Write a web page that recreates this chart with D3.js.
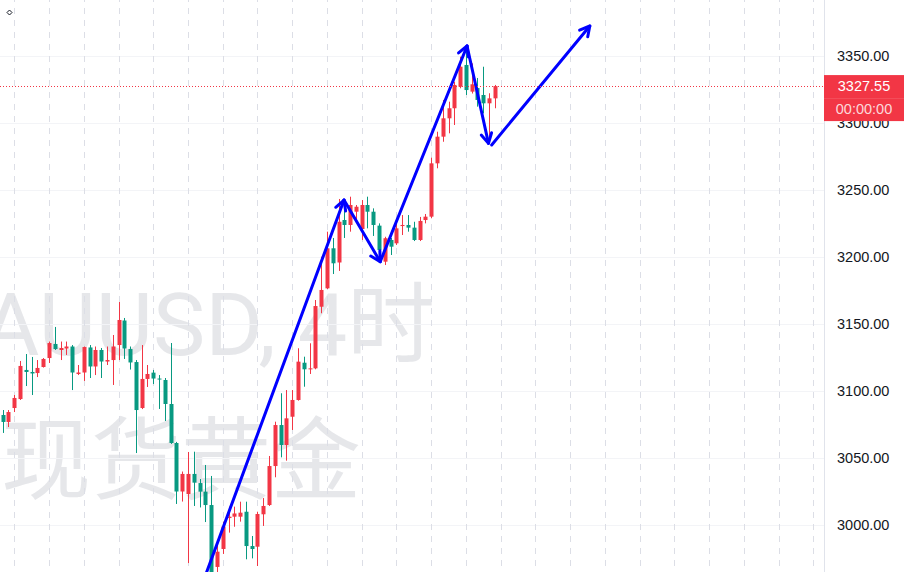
<!DOCTYPE html>
<html>
<head>
<meta charset="utf-8">
<script src="https://cdn.jsdelivr.net/npm/d3@7"></script>
<style>
  html, body { margin: 0; padding: 0; background: #fff; }
  svg { display: block; }
</style>
</head>
<body>
<svg width="904" height="572"></svg>
<script>
// XAUUSD 4h candles, oldest first
const opens = [3082.1, 3076.9, 3087.3, 3094.0, 3115.7, 3114.2, 3113.4, 3117.9, 3124.6, 3135.1,
  3130.6, 3131.7, 3133.2, 3112.7, 3113.8, 3132.5, 3118.3, 3130.6, 3122.0, 3123.1,
  3134.3, 3152.6, 3131.3, 3121.6, 3087.3, 3109.0, 3113.7, 3109.3, 3108.2, 3090.3,
  3061.2, 3025.0, 3023.1, 3038.1, 3031.3, 3024.9, 3014.9, 2968.7, 2982.1, 3005.2,
  3006.2, 3006.2, 3009.9, 2984.3, 2983.8, 3008.0, 3014.9, 3044.0, 3074.6, 3059.7,
  3080.8, 3093.3, 3121.1, 3116.2, 3116.9, 3162.9, 3176.6, 3206.5, 3195.9, 3227.6,
  3223.9, 3233.8, 3220.9, 3238.8, 3233.8, 3223.4, 3196.5, 3212.7, 3210.2, 3223.1,
  3223.9, 3221.9, 3212.7, 3227.6, 3230.1, 3269.9, 3289.8, 3303.5, 3311.0, 3327.1,
  3343.3, 3323.4, 3326.1, 3320.9, 3314.7, 3318.4];
const highs = [3085.8, 3085.8, 3097.0, 3122.4, 3127.6, 3125.4, 3123.1, 3124.6, 3136.9, 3147.8,
  3136.9, 3136.9, 3134.3, 3119.4, 3133.2, 3134.3, 3133.2, 3132.1, 3133.2, 3141.8,
  3166.4, 3154.5, 3133.2, 3123.1, 3134.3, 3119.4, 3115.7, 3111.9, 3109.7, 3135.8,
  3062.0, 3039.9, 3054.5, 3054.7, 3034.3, 3044.8, 3036.6, 2985.1, 3002.5, 3013.7,
  3013.7, 3017.4, 3017.4, 2991.8, 3009.9, 3020.1, 3051.5, 3077.1, 3098.3, 3100.7,
  3100.7, 3131.9, 3125.6, 3135.6, 3167.9, 3200.2, 3218.9, 3214.2, 3243.3, 3241.8,
  3245.0, 3238.8, 3242.5, 3245.0, 3236.3, 3225.1, 3215.1, 3214.2, 3226.1, 3231.3,
  3231.3, 3226.3, 3229.9, 3232.1, 3274.1, 3293.5, 3317.2, 3315.9, 3330.8, 3349.5,
  3354.5, 3344.5, 3333.6, 3342.0, 3322.2, 3328.4];
const lows = [3068.7, 3073.1, 3084.3, 3093.3, 3103.7, 3097.0, 3110.4, 3117.5, 3120.9, 3130.6,
  3123.1, 3126.9, 3100.7, 3111.9, 3107.5, 3109.7, 3111.9, 3109.7, 3119.4, 3104.5,
  3123.1, 3123.9, 3116.0, 3053.7, 3086.5, 3103.0, 3105.2, 3086.6, 3077.6, 3060.5,
  3015.7, 3017.5, 2971.6, 3014.2, 3013.1, 3002.2, 2951.5, 2955.2, 2978.4, 2994.3,
  2998.7, 3002.5, 2974.4, 2975.1, 2969.4, 2999.3, 3014.2, 3035.6, 3050.5, 3048.0,
  3070.9, 3092.8, 3103.2, 3112.7, 3116.2, 3158.0, 3176.1, 3187.3, 3189.6, 3214.2,
  3218.9, 3226.3, 3212.7, 3221.4, 3215.7, 3195.5, 3194.0, 3201.5, 3209.0, 3216.4,
  3218.9, 3211.9, 3211.9, 3225.1, 3228.9, 3266.2, 3286.0, 3292.3, 3298.5, 3325.9,
  3320.9, 3322.0, 3312.2, 3307.2, 3284.9, 3311.0];
const closes = [3076.9, 3084.3, 3094.8, 3118.7, 3114.2, 3113.1, 3117.2, 3123.9, 3135.8, 3131.3,
  3132.1, 3133.2, 3113.8, 3113.8, 3132.8, 3118.3, 3130.6, 3122.0, 3123.1, 3133.2,
  3153.0, 3131.7, 3121.3, 3085.8, 3109.0, 3112.7, 3109.3, 3108.6, 3090.3, 3061.2,
  3025.0, 3038.1, 3038.1, 3031.6, 3024.9, 3014.9, 2961.9, 2980.1, 2998.9, 3006.2,
  3008.6, 3009.2, 2984.3, 2982.1, 3008.2, 3014.2, 3044.0, 3074.6, 3059.7, 3079.6,
  3093.3, 3121.9, 3116.2, 3116.9, 3163.4, 3175.4, 3206.5, 3195.3, 3226.3, 3223.9,
  3238.8, 3237.5, 3238.8, 3233.8, 3223.9, 3205.2, 3214.0, 3207.7, 3221.4, 3223.9,
  3221.9, 3212.7, 3226.9, 3230.1, 3269.9, 3289.8, 3303.5, 3311.0, 3328.4, 3342.0,
  3324.6, 3328.9, 3317.2, 3314.7, 3318.4, 3327.55];

const lastPrice = 3327.55;
const countdown = "00:00:00";
const priceTicks = [3000, 3050, 3100, 3150, 3200, 3250, 3300, 3350];
const watermark = ["XAUUSD, 4时", "现货黄金"];

// hand drawn arrows: [bar index, price] from -> to
const arrows = [
  [[34.4, 2955.2], [58.95, 3242.5]],
  [[58.95, 3242.5], [65.2, 3196.5]],
  [[65.2, 3196.5], [80.2, 3357.5]],
  [[80.2, 3357.5], [83.9, 3284.8]],
  [[84.45, 3283.6], [101.4, 3372.4]]
];

const width = 904, height = 572, paneW = 824;
const upColor = "#f23645", downColor = "#089981";

const svg = d3.select("svg");

const x = d3.scaleLinear().domain([0, 142]).range([2.7, 2.7 + 5.79 * 142]);
const y = d3.scaleLinear().domain([3000, 3350]).range([525, 56]);

const pane = svg.append("g");

// watermark
const wm = pane.append("g")
  .attr("fill", "rgba(178,181,190,0.32)")
  .attr("text-anchor", "middle")
  .style("font-family", "Roboto, 'Noto Sans CJK SC', sans-serif");
wm.append("text").attr("x", 181).attr("y", 355)
  .style("font-size", "88px").text(watermark[0]);
wm.append("text").attr("x", 181).attr("y", 492)
  .style("font-size", "90px").style("font-family", "'Noto Sans CJK SC', sans-serif")
  .text(watermark[1]);

// grid
pane.append("g").selectAll("line")
  .data(priceTicks)
  .enter().append("line")
    .attr("x1", 0).attr("x2", paneW)
    .attr("y1", d => Math.round(y(d)) + 0.5).attr("y2", d => Math.round(y(d)) + 0.5)
    .attr("stroke", "#f3f4f7");

pane.append("g").selectAll("line")
  .data(d3.range(2, 142, 6))
  .enter().append("line")
    .attr("x1", d => Math.round(x(d)) + 0.5).attr("x2", d => Math.round(x(d)) + 0.5)
    .attr("y1", 0).attr("y2", height)
    .attr("stroke", "#dcdee6")
    .attr("stroke-dasharray", "6,6")
    .attr("stroke-dashoffset", 4);

// candles
const candles = opens.map((o, i) => ({i: i, o: o, h: highs[i], l: lows[i], c: closes[i]}));
const cg = pane.append("g").selectAll("g")
  .data(candles)
  .enter().append("g")
    .attr("fill", d => d.c >= d.o ? upColor : downColor)
    .attr("stroke", d => d.c >= d.o ? upColor : downColor);

cg.append("line")
  .attr("x1", d => Math.round(x(d.i)) + 0.5).attr("x2", d => Math.round(x(d.i)) + 0.5)
  .attr("y1", d => y(d.h)).attr("y2", d => y(d.l));

cg.append("rect")
  .attr("stroke", "none")
  .attr("x", d => Math.round(x(d.i)) - 1.5)
  .attr("width", 4)
  .attr("y", d => y(Math.max(d.o, d.c)))
  .attr("height", d => Math.max(1, Math.abs(y(d.o) - y(d.c))));

// arrows
const ag = pane.append("g")
  .attr("stroke", "#0000ff")
  .attr("stroke-width", 3)
  .attr("stroke-linecap", "round")
  .attr("fill", "none");

arrows.forEach(a => {
  const x0 = x(a[0][0]), y0 = y(a[0][1]), x1 = x(a[1][0]), y1 = y(a[1][1]);
  ag.append("line").attr("x1", x0).attr("y1", y0).attr("x2", x1).attr("y2", y1);
  const ang = Math.atan2(y1 - y0, x1 - x0);
  const len = 11, spread = 0.5;
  const head = [ang + Math.PI - spread, ang + Math.PI + spread]
    .map(t => [x1 + len * Math.cos(t), y1 + len * Math.sin(t)]);
  ag.append("path")
    .attr("stroke-linejoin", "round")
    .attr("d", `M${head[0][0]},${head[0][1]}L${x1},${y1}L${head[1][0]},${head[1][1]}`);
});

// last price line
pane.append("line")
  .attr("x1", 0).attr("x2", paneW)
  .attr("y1", Math.round(y(lastPrice)) + 0.5).attr("y2", Math.round(y(lastPrice)) + 0.5)
  .attr("stroke", upColor)
  .attr("stroke-dasharray", "1,2");

// tiny cursor marker top-left
pane.append("path")
  .attr("d", "M9.5,10L12,12.5L9.5,15L7,12.5Z")
  .attr("fill", "none").attr("stroke", "#131722").attr("stroke-width", 1);

// price axis
const axisG = svg.append("g");
axisG.append("rect")
  .attr("x", paneW).attr("y", 0).attr("width", width - paneW).attr("height", height)
  .attr("fill", "#fff");
axisG.append("line")
  .attr("x1", paneW + 0.5).attr("x2", paneW + 0.5).attr("y1", 0).attr("y2", height)
  .attr("stroke", "#e0e3eb");

axisG.selectAll("text.tick")
  .data(priceTicks)
  .enter().append("text")
    .attr("class", "tick")
    .attr("x", 837)
    .attr("y", d => y(d))
    .attr("dy", "0.36em")
    .attr("fill", "#131722")
    .style("font-family", "'Liberation Sans', Arial, sans-serif")
    .style("font-size", "14.5px")
    .text(d => d.toFixed(2));

const py = y(lastPrice);
const lbl = axisG.append("g");
lbl.append("rect")
  .attr("x", paneW).attr("y", py - 11).attr("width", width - paneW).attr("height", 46)
  .attr("fill", upColor);
lbl.append("line")
  .attr("x1", paneW).attr("x2", width).attr("y1", py + 12.5).attr("y2", py + 12.5)
  .attr("stroke", "rgba(255,255,255,0.12)");
lbl.append("text")
  .attr("x", 864).attr("y", py).attr("dy", "0.36em")
  .attr("text-anchor", "middle").attr("fill", "#fff")
  .style("font-family", "'Liberation Sans', Arial, sans-serif")
  .style("font-size", "14.5px")
  .text(lastPrice.toFixed(2));
lbl.append("text")
  .attr("x", 864).attr("y", py + 22.5).attr("dy", "0.36em")
  .attr("text-anchor", "middle").attr("fill", "rgba(255,255,255,0.82)")
  .style("font-family", "'Liberation Sans', Arial, sans-serif")
  .style("font-size", "14.5px")
  .text(countdown);
</script>
</body>
</html>
